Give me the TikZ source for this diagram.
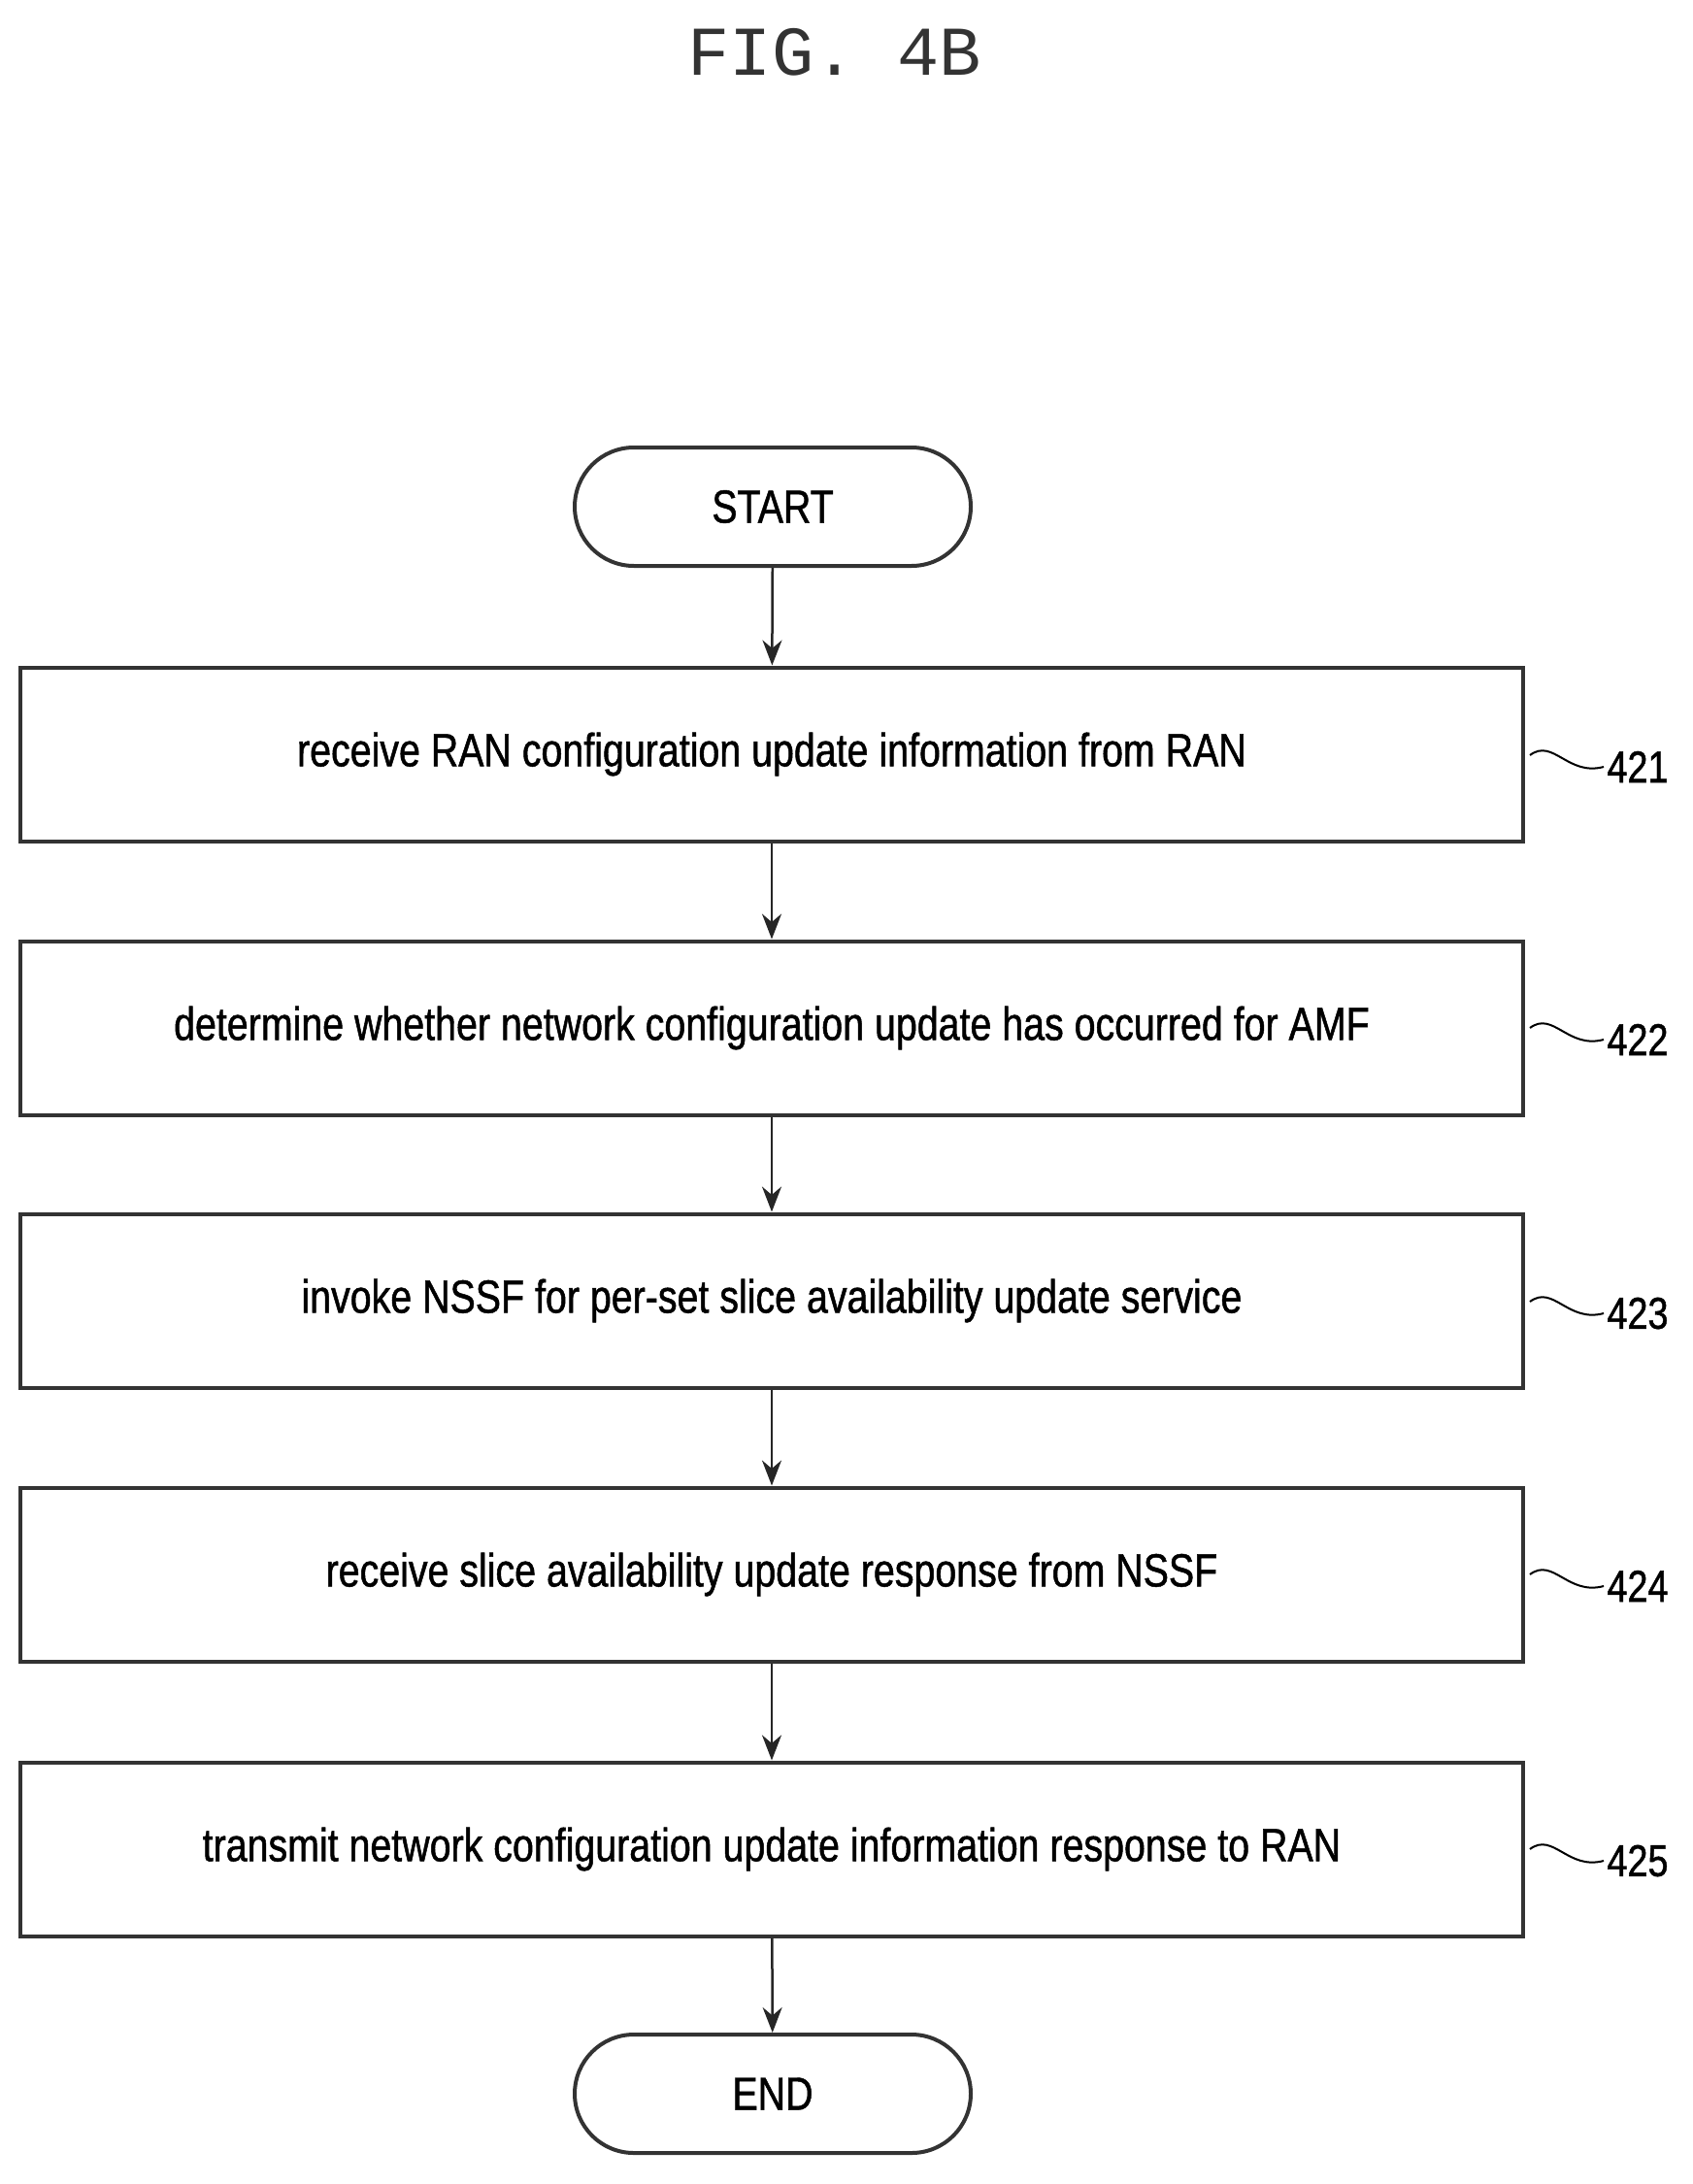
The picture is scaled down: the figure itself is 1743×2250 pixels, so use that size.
\documentclass[tikz,border=0pt]{standalone}
\usepackage{fontspec}
\usetikzlibrary{arrows.meta}
\setmainfont{Liberation Sans}[FakeStretch=0.82,FakeBold=1]
\newfontfamily\titlefont{Liberation Mono}
\begin{document}
\begin{tikzpicture}[x=1pt,y=-1pt,
  box/.style={draw=black!80,line width=4pt,minimum width=1548pt,minimum height=179pt,font=\fontsize{48}{52}\selectfont,inner sep=0pt},
  term/.style={draw=black!80,line width=4pt,rounded corners=61pt,minimum width=408pt,minimum height=122pt,font=\fontsize{48}{52}\selectfont},
  arr/.style={line width=2.5pt,black!85,-{Stealth[length=26pt,width=20pt]}},
  lbl/.style={font=\fontsize{46}{50}\selectfont,anchor=west}]
\useasboundingbox (0,0) rectangle (1743,2250);
\node[font=\titlefont\fontsize{72}{76}\selectfont,text=black!80] (title) at (860,54) {FIG. 4B};
\node[term] (start) at (796,522) {START};
\node[box] (b1) at (795,777) {receive RAN configuration update information from RAN};
\node[box] (b2) at (795,1059) {determine whether network configuration update has occurred for AMF};
\node[box] (b3) at (795,1340) {invoke NSSF for per-set slice availability update service};
\node[box] (b4) at (795,1622) {receive slice availability update response from NSSF};
\node[box] (b5) at (795,1905) {transmit network configuration update information response to RAN};
\node[term] (end) at (796,2157) {END};
\draw[arr] (start) -- (b1);
\draw[arr] (b1) -- (b2);
\draw[arr] (b2) -- (b3);
\draw[arr] (b3) -- (b4);
\draw[arr] (b4) -- (b5);
\draw[arr] (b5) -- (end);
\foreach \i/\y in {1/790,2/1071,3/1353,4/1634,5/1917}{
  \node[lbl] (l\i) at (1652,\y) {42\i};
  \coordinate (s\i) at (1576,\y-12);
  \draw[line width=2pt] (s\i) .. controls (1600,\y-30) and (1615,\y+10) .. (l\i.west);
}
\end{tikzpicture}
\end{document}
